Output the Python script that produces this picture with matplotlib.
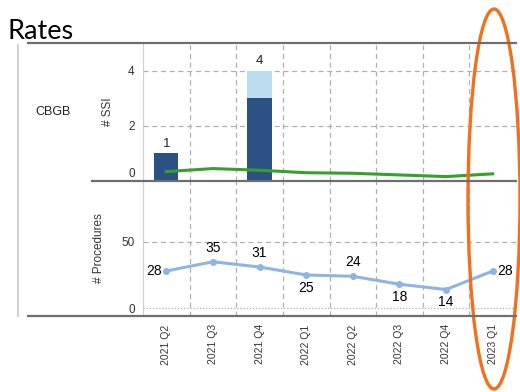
import numpy as np
import matplotlib
matplotlib.use("Agg")
from matplotlib import pyplot as plt
from matplotlib.lines import Line2D
from matplotlib.patches import Ellipse
from matplotlib.transforms import ScaledTranslation

# chart data
quarters = ["2021 Q2", "2021 Q3", "2021 Q4", "2022 Q1", "2022 Q2", "2022 Q3", "2022 Q4", "2023 Q1"]
ssi_dark = [1, 0, 3, 0, 0, 0, 0, 0]
ssi_light = [0, 0, 1, 0, 0, 0, 0, 0]
ssi_expected = [0.34, 0.45, 0.39, 0.30, 0.28, 0.22, 0.16, 0.26]
procedures = [28, 35, 31, 25, 24, 18, 14, 28]
# where each procedure label sits relative to its point
proc_label_pos = ["left", "above", "above", "below", "above", "below", "below", "right"]

W, H = 520, 392
plt.rcParams['font.family'] = ['Liberation Sans', 'DejaVu Sans']
fig = plt.figure(figsize=(W / 100, H / 100), dpi=100)


def fx(px):
    return px / W


def fy(py):
    return 1 - py / H


x = np.arange(len(quarters))
dark = "#2b5282"
light = "#bcdcf0"
grid_c = "#b0b0b0"

# top panel - SSI counts
axt = fig.add_axes([fx(143), fy(181), fx(516) - fx(143), fy(43) - fy(181)])
axt.bar(x, ssi_dark, width=0.52, color=dark, zorder=3)
axt.bar(x, ssi_light, width=0.52, bottom=ssi_dark, color=light, zorder=3)
axt.plot(x, ssi_expected, color="#35a02c", lw=2.2, zorder=4)
for i in range(len(x)):
    tot = ssi_dark[i] + ssi_light[i]
    if tot > 0:
        axt.text(x[i], tot + 0.12, str(tot), ha="center", va="bottom", fontsize=9.5, color="#222222")
axt.set_xlim(-0.5, len(x) - 0.5)
axt.set_ylim(0, 5)
axt.set_yticks([0, 2, 4])
axt.set_ylabel("# SSI", fontsize=8.5, color="#333333", labelpad=10)

# bottom panel - procedures
axb = fig.add_axes([fx(143), fy(316), fx(516) - fx(143), fy(181) - fy(316)])
axb.plot(x, procedures, color="#8fb4e3", lw=2.2, marker="o", ms=4, zorder=4)
for i, v in enumerate(procedures):
    pos = proc_label_pos[i]
    if pos == "above":
        axb.annotate(str(v), (x[i], v), xytext=(0, 5), textcoords="offset points", ha="center", va="bottom", fontsize=10)
    elif pos == "below":
        axb.annotate(str(v), (x[i], v), xytext=(0, -4), textcoords="offset points", ha="center", va="top", fontsize=10)
    elif pos == "left":
        axb.annotate(str(v), (x[i], v), xytext=(-3, 0), textcoords="offset points", ha="right", va="center", fontsize=10)
    else:
        axb.annotate(str(v), (x[i], v), xytext=(3, 0), textcoords="offset points", ha="left", va="center", fontsize=10)
axb.set_xlim(-0.5, len(x) - 0.5)
axb.set_ylim(-6, 96)
axb.set_yticks([0, 50])
axb.set_ylabel("# Procedures", fontsize=8.5, color="#333333", labelpad=12)
axb.set_xticks(x)
axb.set_xticklabels(quarters, rotation=90, fontsize=7.5, color="#333333")

for ax in (axt, axb):
    for s in ax.spines.values():
        s.set_visible(False)
    ax.tick_params(axis="both", length=0, pad=6)
    ax.tick_params(axis="y", labelsize=8.5, labelcolor="#333333")
    ax.grid(False)
    for b in x[:-1] + 0.5:
        ax.axvline(b, color=grid_c, lw=0.9, ls=(0, (4, 3)), zorder=1)
    ax.axvline(-0.5, color="#d0d0d0", lw=0.9, zorder=1)
    ax.axvline(len(x) - 0.5, color="#d0d0d0", lw=0.9, zorder=1)
    ax.patch.set_alpha(0)

axt.tick_params(axis="x", labelbottom=False)
# the zero label of the top panel sits a little above the frame line
zero_lab = axt.get_yticklabels()[0]
zero_lab.set_transform(zero_lab.get_transform() + ScaledTranslation(0, 6 / 72, fig.dpi_scale_trans))
for yv in [2, 4]:
    axt.axhline(yv, color=grid_c, lw=0.9, ls=(0, (4, 3)), zorder=1)
axb.axhline(50, color=grid_c, lw=0.9, ls=(0, (4, 3)), zorder=1)
axb.axhline(0, color=grid_c, lw=0.9, ls=(0, (1, 1.5)), zorder=1)

# frame lines around the panels
line_c = "#6e6e6e"
fig.add_artist(Line2D([fx(28), fx(516)], [fy(43), fy(43)], color=line_c, lw=1.6))
fig.add_artist(Line2D([fx(92), fx(516)], [fy(181), fy(181)], color=line_c, lw=1.6))
fig.add_artist(Line2D([fx(28), fx(516)], [fy(316), fy(316)], color=line_c, lw=1.6))
fig.add_artist(Line2D([fx(18), fx(18)], [fy(45), fy(316)], color="#c8c8c8", lw=1.2))

fig.text(fx(35), fy(112), "CBGB", fontsize=9, color="#222222", va="center")
fig.text(fx(7), fy(39), "Rates", fontsize=19.5, family=["Lato", "DejaVu Sans"], va="baseline")

# orange highlight
fig.add_artist(Ellipse((fx(494), fy(199)), fx(52), 380 / H, transform=fig.transFigure,
                       fill=False, edgecolor="#f26f1d", lw=2.4))

fig.savefig("out.png", dpi=100)
